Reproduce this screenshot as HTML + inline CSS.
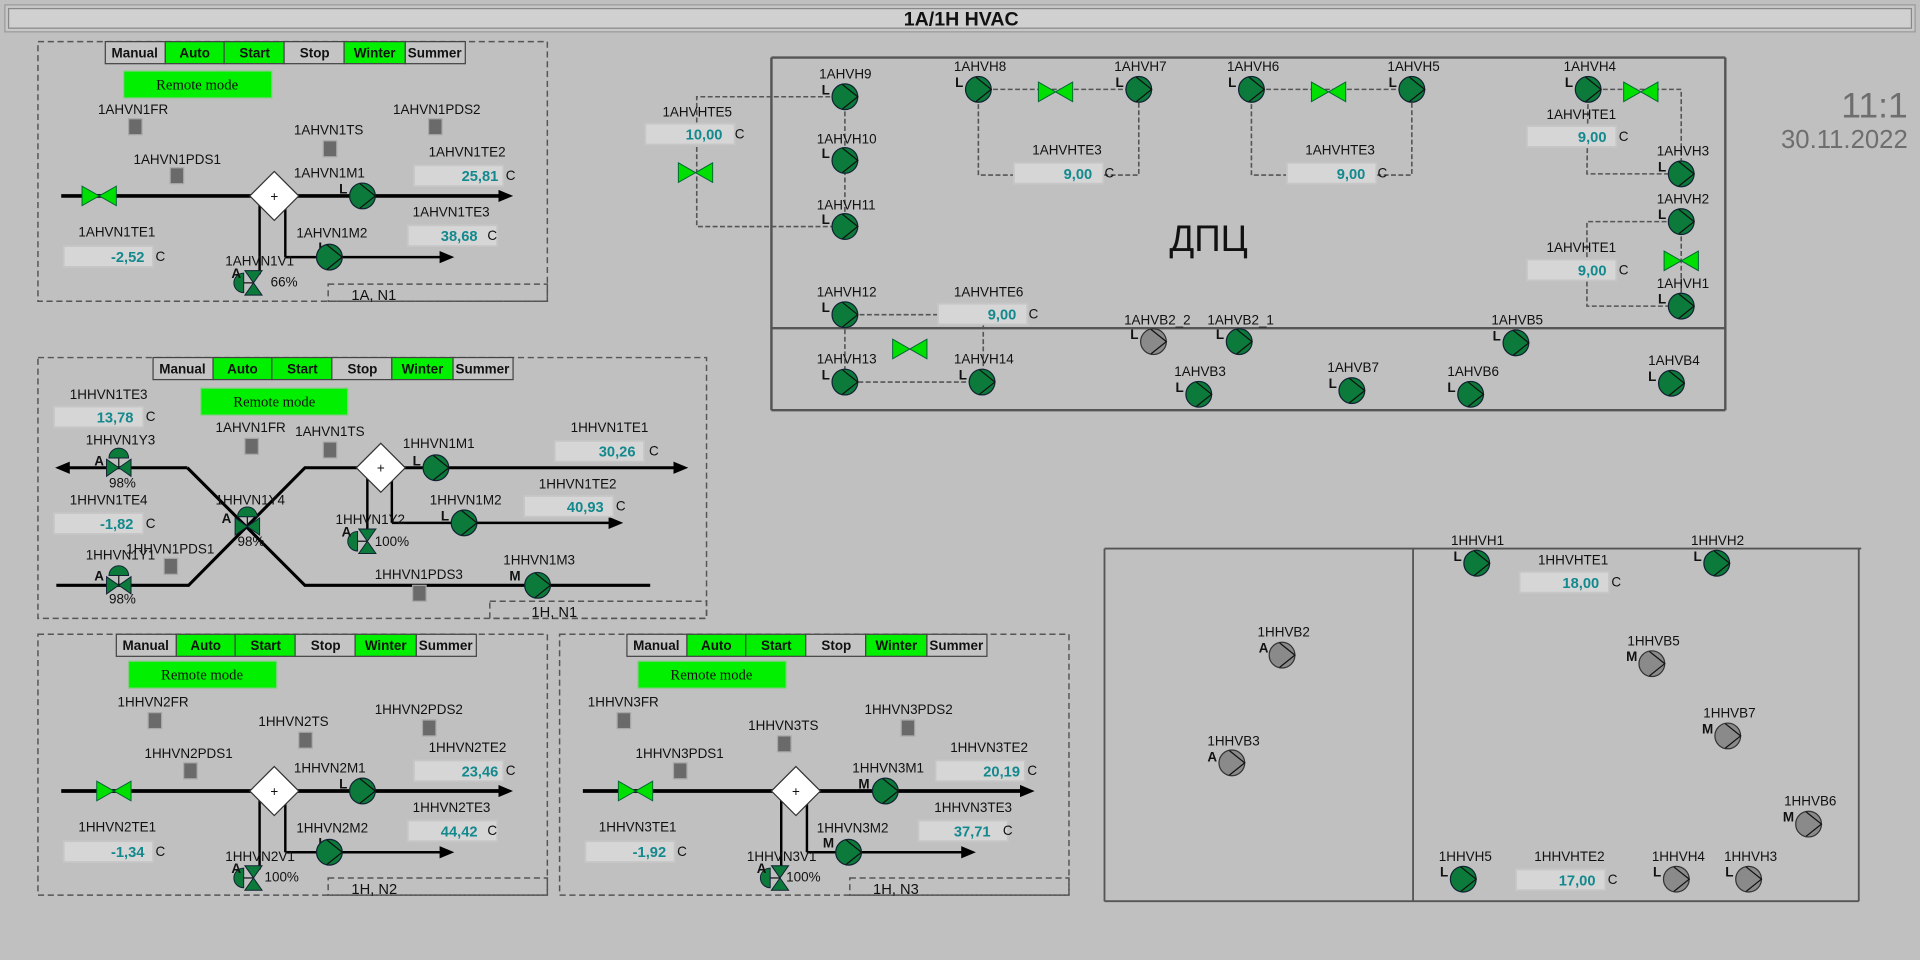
<!DOCTYPE html>
<html><head><meta charset="utf-8"><style>
html,body{margin:0;padding:0;background:#c0c0c0;width:1920px;height:960px;overflow:hidden}
svg{display:block}
text{font-family:"Liberation Sans",sans-serif;fill:#111}
.l{font-size:11px}
.b{font-size:11px;font-weight:bold}
.v{font-size:12px;font-weight:bold;fill:#13898e}
.btn{font-size:11px;font-weight:bold}
.rm{font-family:"Liberation Serif",serif;font-size:12px}
</style></head><body>
<svg width="1920" height="960" viewBox="0 0 1568 784" xmlns="http://www.w3.org/2000/svg">
<defs>
<g id="pump"><circle r="10.5" fill="#0b7a3a" stroke="#123" stroke-width="1"/><polyline points="-2,-10 10.5,0 -2,10" fill="none" stroke="#111" stroke-width="1"/></g>
<g id="pumpg"><circle r="10.5" fill="#8a8a8a" stroke="#333" stroke-width="1"/><polyline points="-2,-10 10.5,0 -2,10" fill="none" stroke="#111" stroke-width="1"/></g>
<g id="gv"><polygon points="-14,-8 0,0 -14,8" fill="#00e000" stroke="#063" stroke-width="0.8"/><polygon points="14,-8 0,0 14,8" fill="#00e000" stroke="#063" stroke-width="0.8"/></g>
<g id="cvv"><line x1="-8" y1="0" x2="0" y2="0" stroke="#111"/><path d="M-8,-8 A8,8 0 0 0 -8,8 Z" fill="#0b7a3a" stroke="#123" stroke-width="0.8"/><polygon points="-7,-10 7,-10 0,0" fill="#0b7a3a" stroke="#123" stroke-width="0.8"/><polygon points="-7,10 7,10 0,0" fill="#0b7a3a" stroke="#123" stroke-width="0.8"/></g>
<g id="cvh"><line x1="0" y1="0" x2="0" y2="-8" stroke="#111"/><path d="M-8,-8 A8,8 0 0 1 8,-8 Z" fill="#0b7a3a" stroke="#123" stroke-width="0.8"/><polygon points="-10,-7 -10,7 0,0" fill="#0b7a3a" stroke="#123" stroke-width="0.8"/><polygon points="10,-7 10,7 0,0" fill="#0b7a3a" stroke="#123" stroke-width="0.8"/></g>
<rect id="sq" x="0" y="0" width="11" height="13" fill="#6a6a6a" stroke="#a8a8a8" stroke-width="1"/>
<rect id="vb" x="0" y="0" width="73" height="17" fill="#d6d6d6" stroke="#c6c6c6" stroke-width="1.5"/>
<g id="dia"><polygon points="0,-20 20,0 0,20 -20,0" fill="#fff" stroke="#333" stroke-width="1"/><text x="0" y="4" text-anchor="middle" style="font-size:11px">+</text></g>
<g id="btns">
<rect x="0" y="0" width="49" height="18" fill="#c4c4c4" stroke="#444"/>
<rect x="49" y="0" width="48" height="18" fill="#00f000" stroke="#444"/>
<rect x="97" y="0" width="49" height="18" fill="#00f000" stroke="#444"/>
<rect x="146" y="0" width="49" height="18" fill="#c4c4c4" stroke="#444"/>
<rect x="195" y="0" width="50" height="18" fill="#00f000" stroke="#444"/>
<rect x="245" y="0" width="49" height="18" fill="#c4c4c4" stroke="#444"/>
</g>
<marker id="ar" markerWidth="12" markerHeight="10" refX="1" refY="5" orient="auto" markerUnits="userSpaceOnUse"><polygon points="0,0 12,5 0,10" fill="#000"/></marker>
</defs>

<!-- title -->
<rect x="4" y="4" width="1560" height="22" fill="#c8c8c8" stroke="#9a9a9a"/>
<rect x="7" y="7" width="1554" height="16" fill="#d0d0d0" stroke="#888"/>
<text x="785" y="21" text-anchor="middle" style="font-size:16px;font-weight:bold">1A/1H HVAC</text>

<!-- Panel 1 -->
<g>
<rect x="31" y="34" width="416" height="212" fill="none" stroke="#555" stroke-dasharray="5,3" stroke-width="1.2"/>
<use href="#btns" x="86" y="34"/>
<text class="btn" x="110" y="47" text-anchor="middle">Manual</text><text class="btn" x="159" y="47" text-anchor="middle">Auto</text><text class="btn" x="208" y="47" text-anchor="middle">Start</text><text class="btn" x="257" y="47" text-anchor="middle">Stop</text><text class="btn" x="306" y="47" text-anchor="middle">Winter</text><text class="btn" x="355" y="47" text-anchor="middle">Summer</text>
<rect x="101" y="58" width="121" height="22" fill="#00f000" stroke="#8c8"/><text class="rm" x="161" y="73" text-anchor="middle">Remote mode</text>
<text class="l" x="80" y="93">1AHVN1FR</text><use href="#sq" x="105" y="97"/>
<text class="l" x="321" y="93">1AHVN1PDS2</text><use href="#sq" x="350" y="97"/>
<text class="l" x="240" y="110">1AHVN1TS</text><use href="#sq" x="264" y="115"/>
<text class="l" x="109" y="134">1AHVN1PDS1</text><use href="#sq" x="139" y="137"/>
<text class="l" x="350" y="128">1AHVN1TE2</text><use href="#vb" x="338" y="135"/><text class="v" x="407" y="148" text-anchor="end">25,81</text><text class="l" x="413" y="147">C</text>
<line x1="50" y1="160" x2="408" y2="160" stroke="#000" stroke-width="3" marker-end="url(#ar)"/>
<use href="#gv" x="81" y="160"/>
<line x1="212" y1="160" x2="212" y2="224" stroke="#000" stroke-width="2"/>
<line x1="233" y1="160" x2="233" y2="210" stroke="#000" stroke-width="2"/>
<line x1="233" y1="210" x2="360" y2="210" stroke="#000" stroke-width="2" marker-end="url(#ar)"/>
<use href="#dia" x="224" y="160"/>
<text class="l" x="240" y="145">1AHVN1M1</text><text class="b" x="277" y="158">L</text><use href="#pump" x="296" y="160"/>
<text class="l" x="337" y="177">1AHVN1TE3</text><use href="#vb" x="333" y="184"/><text class="v" x="390" y="197" text-anchor="end">38,68</text><text class="l" x="398" y="196">C</text>
<text class="l" x="242" y="194">1AHVN1M2</text><text class="b" x="260" y="206">L</text><use href="#pump" x="269" y="210"/>
<text class="l" x="64" y="193">1AHVN1TE1</text><use href="#vb" x="52" y="201"/><text class="v" x="118" y="214" text-anchor="end">-2,52</text><text class="l" x="127" y="213">C</text>
<text class="l" x="184" y="217">1AHVN1V1</text><use href="#cvv" x="207" y="231"/><text class="b" x="189" y="227">A</text><text class="l" x="221" y="234">66%</text>
<rect x="268" y="232" width="179" height="14" fill="none" stroke="#555" stroke-dasharray="5,3" stroke-width="1.2"/><text class="l" x="287" y="245" style="font-size:12px">1A, N1</text>
</g>

<!-- Panel 2 -->
<g>
<rect x="31" y="292" width="546" height="213" fill="none" stroke="#555" stroke-dasharray="5,3" stroke-width="1.2"/>
<use href="#btns" x="125" y="292"/>
<text class="btn" x="149" y="305" text-anchor="middle">Manual</text><text class="btn" x="198" y="305" text-anchor="middle">Auto</text><text class="btn" x="247" y="305" text-anchor="middle">Start</text><text class="btn" x="296" y="305" text-anchor="middle">Stop</text><text class="btn" x="345" y="305" text-anchor="middle">Winter</text><text class="btn" x="394" y="305" text-anchor="middle">Summer</text>
<rect x="164" y="317" width="120" height="22" fill="#00f000" stroke="#8c8"/><text class="rm" x="224" y="332" text-anchor="middle">Remote mode</text>
<text class="l" x="57" y="326">1HHVN1TE3</text><use href="#vb" x="44" y="332"/><text class="v" x="109" y="345" text-anchor="end">13,78</text><text class="l" x="119" y="344">C</text>
<text class="l" x="176" y="353">1AHVN1FR</text><use href="#sq" x="200" y="358"/>
<text class="l" x="241" y="356">1AHVN1TS</text><use href="#sq" x="264" y="361"/>
<polyline points="153,382 249,478 531,478" fill="none" stroke="#000" stroke-width="2.5"/>
<polyline points="46,478 154,478 249,382 551,382" fill="none" stroke="#000" stroke-width="2.5" marker-end="url(#ar)"/>
<line x1="153" y1="382" x2="56" y2="382" stroke="#000" stroke-width="2.5" marker-end="url(#ar)"/>
<line x1="300" y1="382" x2="300" y2="440" stroke="#000" stroke-width="2"/>
<line x1="320" y1="382" x2="320" y2="427" stroke="#000" stroke-width="2"/>
<line x1="320" y1="427" x2="498" y2="427" stroke="#000" stroke-width="2" marker-end="url(#ar)"/>
<use href="#dia" x="311" y="382"/>
<text class="l" x="70" y="363">1HHVN1Y3</text><use href="#cvh" x="97" y="382"/><text class="b" x="77" y="380">A</text><text class="l" x="89" y="398">98%</text>
<text class="l" x="329" y="366">1HHVN1M1</text><text class="b" x="337" y="380">L</text><use href="#pump" x="356" y="382"/>
<text class="l" x="466" y="353">1HHVN1TE1</text><use href="#vb" x="453" y="360"/><text class="v" x="519" y="373" text-anchor="end">30,26</text><text class="l" x="530" y="372">C</text>
<text class="l" x="440" y="399">1HHVN1TE2</text><use href="#vb" x="428" y="405"/><text class="v" x="493" y="418" text-anchor="end">40,93</text><text class="l" x="503" y="417">C</text>
<text class="l" x="57" y="412">1HHVN1TE4</text><use href="#vb" x="44" y="419"/><text class="v" x="109" y="432" text-anchor="end">-1,82</text><text class="l" x="119" y="431">C</text>
<text class="l" x="176" y="412">1HHVN1Y4</text><use href="#cvh" x="202" y="430"/><text class="b" x="181" y="427">A</text><text class="l" x="194" y="446">98%</text>
<text class="l" x="351" y="412">1HHVN1M2</text><text class="b" x="360" y="425">L</text><use href="#pump" x="379" y="427"/>
<text class="l" x="274" y="428">1HHVN1Y2</text><use href="#cvv" x="300" y="442"/><text class="b" x="279" y="438">A</text><text class="l" x="306" y="446">100%</text>
<text class="l" x="103" y="452">1HHVN1PDS1</text><use href="#sq" x="134" y="456"/>
<text class="l" x="70" y="457">1HHVN1Y1</text><use href="#cvh" x="97" y="478"/><text class="b" x="77" y="474">A</text><text class="l" x="89" y="493">98%</text>
<text class="l" x="306" y="473">1HHVN1PDS3</text><use href="#sq" x="337" y="478"/>
<text class="l" x="411" y="461">1HHVN1M3</text><text class="b" x="416" y="474">M</text><use href="#pump" x="439" y="478"/>
<rect x="400" y="491" width="177" height="14" fill="none" stroke="#555" stroke-dasharray="5,3" stroke-width="1.2"/><text class="l" x="434" y="504" style="font-size:12px">1H, N1</text>
</g>

<!-- Panel 3 -->
<g transform="translate(0,486)">
<rect x="31" y="32" width="416" height="213" fill="none" stroke="#555" stroke-dasharray="5,3" stroke-width="1.2"/>
<use href="#btns" x="95" y="32"/>
<text class="btn" x="119" y="45" text-anchor="middle">Manual</text><text class="btn" x="168" y="45" text-anchor="middle">Auto</text><text class="btn" x="217" y="45" text-anchor="middle">Start</text><text class="btn" x="266" y="45" text-anchor="middle">Stop</text><text class="btn" x="315" y="45" text-anchor="middle">Winter</text><text class="btn" x="364" y="45" text-anchor="middle">Summer</text>
<rect x="105" y="54" width="121" height="22" fill="#00f000" stroke="#8c8"/><text class="rm" x="165" y="69" text-anchor="middle">Remote mode</text>
<text class="l" x="96" y="91">1HHVN2FR</text><use href="#sq" x="121" y="96"/>
<text class="l" x="306" y="97">1HHVN2PDS2</text><use href="#sq" x="345" y="102"/>
<text class="l" x="211" y="107">1HHVN2TS</text><use href="#sq" x="244" y="112"/>
<text class="l" x="118" y="133">1HHVN2PDS1</text><use href="#sq" x="150" y="137"/>
<text class="l" x="350" y="128">1HHVN2TE2</text><use href="#vb" x="338" y="135"/><text class="v" x="407" y="148" text-anchor="end">23,46</text><text class="l" x="413" y="147">C</text>
<line x1="50" y1="160" x2="408" y2="160" stroke="#000" stroke-width="3" marker-end="url(#ar)"/>
<use href="#gv" x="93" y="160"/>
<line x1="212" y1="160" x2="212" y2="224" stroke="#000" stroke-width="2"/>
<line x1="233" y1="160" x2="233" y2="210" stroke="#000" stroke-width="2"/>
<line x1="233" y1="210" x2="360" y2="210" stroke="#000" stroke-width="2" marker-end="url(#ar)"/>
<use href="#dia" x="224" y="160"/>
<text class="l" x="240" y="145">1HHVN2M1</text><text class="b" x="277" y="158">L</text><use href="#pump" x="296" y="160"/>
<text class="l" x="337" y="177">1HHVN2TE3</text><use href="#vb" x="333" y="184"/><text class="v" x="390" y="197" text-anchor="end">44,42</text><text class="l" x="398" y="196">C</text>
<text class="l" x="242" y="194">1HHVN2M2</text><text class="b" x="260" y="206">L</text><use href="#pump" x="269" y="210"/>
<text class="l" x="64" y="193">1HHVN2TE1</text><use href="#vb" x="52" y="201"/><text class="v" x="118" y="214" text-anchor="end">-1,34</text><text class="l" x="127" y="213">C</text>
<text class="l" x="184" y="217">1HHVN2V1</text><use href="#cvv" x="207" y="231"/><text class="b" x="189" y="227">A</text><text class="l" x="216" y="234">100%</text>
<rect x="268" y="231" width="179" height="14" fill="none" stroke="#555" stroke-dasharray="5,3" stroke-width="1.2"/><text class="l" x="287" y="244" style="font-size:12px">1H, N2</text>
</g>

<!-- Panel 4 -->
<g transform="translate(426,486)">
<rect x="31" y="32" width="416" height="213" fill="none" stroke="#555" stroke-dasharray="5,3" stroke-width="1.2"/>
<use href="#btns" x="86" y="32"/>
<text class="btn" x="110" y="45" text-anchor="middle">Manual</text><text class="btn" x="159" y="45" text-anchor="middle">Auto</text><text class="btn" x="208" y="45" text-anchor="middle">Start</text><text class="btn" x="257" y="45" text-anchor="middle">Stop</text><text class="btn" x="306" y="45" text-anchor="middle">Winter</text><text class="btn" x="355" y="45" text-anchor="middle">Summer</text>
<rect x="95" y="54" width="121" height="22" fill="#00f000" stroke="#8c8"/><text class="rm" x="155" y="69" text-anchor="middle">Remote mode</text>
<text class="l" x="54" y="91">1HHVN3FR</text><use href="#sq" x="78" y="96"/>
<text class="l" x="280" y="97">1HHVN3PDS2</text><use href="#sq" x="310" y="102"/>
<text class="l" x="185" y="110">1HHVN3TS</text><use href="#sq" x="209" y="115"/>
<text class="l" x="93" y="133">1HHVN3PDS1</text><use href="#sq" x="124" y="137"/>
<text class="l" x="350" y="128">1HHVN3TE2</text><use href="#vb" x="338" y="135"/><text class="v" x="407" y="148" text-anchor="end">20,19</text><text class="l" x="413" y="147">C</text>
<line x1="50" y1="160" x2="408" y2="160" stroke="#000" stroke-width="3" marker-end="url(#ar)"/>
<use href="#gv" x="93" y="160"/>
<line x1="212" y1="160" x2="212" y2="224" stroke="#000" stroke-width="2"/>
<line x1="233" y1="160" x2="233" y2="210" stroke="#000" stroke-width="2"/>
<line x1="233" y1="210" x2="360" y2="210" stroke="#000" stroke-width="2" marker-end="url(#ar)"/>
<use href="#dia" x="224" y="160"/>
<text class="l" x="270" y="145">1HHVN3M1</text><text class="b" x="275" y="158">M</text><use href="#pump" x="297" y="160"/>
<text class="l" x="337" y="177">1HHVN3TE3</text><use href="#vb" x="324" y="184"/><text class="v" x="383" y="197" text-anchor="end">37,71</text><text class="l" x="393" y="196">C</text>
<text class="l" x="241" y="194">1HHVN3M2</text><text class="b" x="246" y="206">M</text><use href="#pump" x="267" y="210"/>
<text class="l" x="63" y="193">1HHVN3TE1</text><use href="#vb" x="52" y="201"/><text class="v" x="118" y="214" text-anchor="end">-1,92</text><text class="l" x="127" y="213">C</text>
<text class="l" x="184" y="217">1HHVN3V1</text><use href="#cvv" x="211" y="231"/><text class="b" x="192" y="227">A</text><text class="l" x="216" y="234">100%</text>
<rect x="268" y="231" width="179" height="14" fill="none" stroke="#555" stroke-dasharray="5,3" stroke-width="1.2"/><text class="l" x="287" y="244" style="font-size:12px">1H, N3</text>
</g>

<!-- DPC area -->
<g>
<line x1="630" y1="47" x2="1409" y2="47" stroke="#555" stroke-width="2"/>
<line x1="630" y1="47" x2="630" y2="335" stroke="#555" stroke-width="2"/>
<line x1="1409" y1="47" x2="1409" y2="335" stroke="#555" stroke-width="2"/>
<line x1="630" y1="335" x2="1409" y2="335" stroke="#555" stroke-width="2"/>
<line x1="630" y1="268" x2="1409" y2="268" stroke="#555" stroke-width="2"/>
<g fill="none" stroke="#555" stroke-dasharray="4,2" stroke-width="1.3">
<polyline points="690,79 569,79 569,185 690,185"/>
<polyline points="690,79 690,185"/>
<polyline points="799,73 930,73"/>
<polyline points="799,73 799,143 828,143"/><polyline points="901,143 930,143 930,73"/>
<polyline points="1022,73 1153,73"/>
<polyline points="1022,73 1022,143 1051,143"/><polyline points="1124,143 1153,143 1153,73"/>
<polyline points="1297,73 1373,73 1373,142"/>
<polyline points="1297,73 1296,142 1373,142"/>
<polyline points="1373,181 1296,181 1296,250 1373,250"/>
<polyline points="1373,181 1373,250"/>
<polyline points="690,257 766,257"/><polyline points="803,265 803,312"/>
<polyline points="690,257 690,312 802,312"/>
</g>
<text class="l" x="541" y="95">1AHVHTE5</text><use href="#vb" x="527" y="101"/><text class="v" x="590" y="114" text-anchor="end">10,00</text><text class="l" x="600" y="113">C</text>
<use href="#gv" x="568" y="141"/>
<text class="l" x="669" y="64">1AHVH9</text><text class="b" x="671" y="77">L</text><use href="#pump" x="690" y="79"/>
<text class="l" x="667" y="117">1AHVH10</text><text class="b" x="671" y="129">L</text><use href="#pump" x="690" y="131"/>
<text class="l" x="667" y="171">1AHVH11</text><text class="b" x="671" y="183">L</text><use href="#pump" x="690" y="185"/>
<text class="l" x="779" y="58">1AHVH8</text><text class="b" x="780" y="71">L</text><use href="#pump" x="799" y="73"/>
<use href="#gv" x="862" y="75"/>
<text class="l" x="910" y="58">1AHVH7</text><text class="b" x="911" y="71">L</text><use href="#pump" x="930" y="73"/>
<text class="l" x="843" y="126">1AHVHTE3</text><use href="#vb" x="828" y="133"/><text class="v" x="892" y="146" text-anchor="end">9,00</text><text class="l" x="902" y="145">C</text>
<text class="l" x="1002" y="58">1AHVH6</text><text class="b" x="1003" y="71">L</text><use href="#pump" x="1022" y="73"/>
<use href="#gv" x="1085" y="75"/>
<text class="l" x="1133" y="58">1AHVH5</text><text class="b" x="1134" y="71">L</text><use href="#pump" x="1153" y="73"/>
<text class="l" x="1066" y="126">1AHVHTE3</text><use href="#vb" x="1051" y="133"/><text class="v" x="1115" y="146" text-anchor="end">9,00</text><text class="l" x="1125" y="145">C</text>
<text class="l" x="1277" y="58">1AHVH4</text><text class="b" x="1278" y="71">L</text><use href="#pump" x="1297" y="73"/>
<use href="#gv" x="1340" y="75"/>
<text class="l" x="1263" y="97">1AHVHTE1</text><use href="#vb" x="1247" y="103"/><text class="v" x="1312" y="116" text-anchor="end">9,00</text><text class="l" x="1322" y="115">C</text>
<text class="l" x="1353" y="127">1AHVH3</text><text class="b" x="1354" y="140">L</text><use href="#pump" x="1373" y="142"/>
<text class="l" x="1353" y="166">1AHVH2</text><text class="b" x="1354" y="179">L</text><use href="#pump" x="1373" y="181"/>
<use href="#gv" x="1373" y="213"/>
<text class="l" x="1263" y="206">1AHVHTE1</text><use href="#vb" x="1247" y="212"/><text class="v" x="1312" y="225" text-anchor="end">9,00</text><text class="l" x="1322" y="224">C</text>
<text class="l" x="1353" y="235">1AHVH1</text><text class="b" x="1354" y="248">L</text><use href="#pump" x="1373" y="250"/>
<text x="987" y="205" text-anchor="middle" style="font-size:30px">ДПЦ</text>
<text class="l" x="667" y="242">1AHVH12</text><text class="b" x="671" y="255">L</text><use href="#pump" x="690" y="257"/>
<text class="l" x="779" y="242">1AHVHTE6</text><use href="#vb" x="766" y="248"/><text class="v" x="830" y="261" text-anchor="end">9,00</text><text class="l" x="840" y="260">C</text>
<use href="#gv" x="743" y="285"/>
<text class="l" x="667" y="297">1AHVH13</text><text class="b" x="671" y="310">L</text><use href="#pump" x="690" y="312"/>
<text class="l" x="779" y="297">1AHVH14</text><text class="b" x="783" y="310">L</text><use href="#pump" x="802" y="312"/>
<text class="l" x="918" y="265">1AHVB2_2</text><text class="b" x="923" y="277">L</text><use href="#pumpg" x="942" y="279"/>
<text class="l" x="986" y="265">1AHVB2_1</text><text class="b" x="993" y="277">L</text><use href="#pump" x="1012" y="279"/>
<text class="l" x="1218" y="265">1AHVB5</text><text class="b" x="1219" y="278">L</text><use href="#pump" x="1238" y="280"/>
<text class="l" x="959" y="307">1AHVB3</text><text class="b" x="960" y="320">L</text><use href="#pump" x="979" y="322"/>
<text class="l" x="1084" y="304">1AHVB7</text><text class="b" x="1085" y="317">L</text><use href="#pump" x="1104" y="319"/>
<text class="l" x="1182" y="307">1AHVB6</text><text class="b" x="1182" y="320">L</text><use href="#pump" x="1201" y="322"/>
<text class="l" x="1346" y="298">1AHVB4</text><text class="b" x="1346" y="311">L</text><use href="#pump" x="1365" y="313"/>
</g>

<!-- clock -->
<text x="1558" y="96" text-anchor="end" style="font-size:29px;fill:#6e6e6e">11:1</text>
<text x="1558" y="121" text-anchor="end" style="font-size:21px;fill:#6e6e6e">30.11.2022</text>

<!-- right-bottom area -->
<g>
<line x1="902" y1="448" x2="1520" y2="448" stroke="#555" stroke-width="1.5"/>
<line x1="902" y1="448" x2="902" y2="736" stroke="#555" stroke-width="1.5"/>
<line x1="1154" y1="448" x2="1154" y2="736" stroke="#555" stroke-width="1.5"/>
<line x1="1518" y1="448" x2="1518" y2="736" stroke="#555" stroke-width="1.5"/>
<line x1="902" y1="736" x2="1518" y2="736" stroke="#555" stroke-width="1.5"/>
<text class="l" x="1185" y="445">1HHVH1</text><text class="b" x="1187" y="458">L</text><use href="#pump" x="1206" y="460"/>
<text class="l" x="1381" y="445">1HHVH2</text><text class="b" x="1383" y="458">L</text><use href="#pump" x="1402" y="460"/>
<text class="l" x="1256" y="461">1HHVHTE1</text><use href="#vb" x="1241" y="467"/><text class="v" x="1306" y="480" text-anchor="end">18,00</text><text class="l" x="1316" y="479">C</text>
<text class="l" x="1027" y="520">1HHVB2</text><text class="b" x="1028" y="533">A</text><use href="#pumpg" x="1047" y="535"/>
<text class="l" x="1329" y="527">1HHVB5</text><text class="b" x="1328" y="540">M</text><use href="#pumpg" x="1349" y="542"/>
<text class="l" x="1391" y="586">1HHVB7</text><text class="b" x="1390" y="599">M</text><use href="#pumpg" x="1411" y="601"/>
<text class="l" x="986" y="609">1HHVB3</text><text class="b" x="986" y="622">A</text><use href="#pumpg" x="1006" y="623"/>
<text class="l" x="1457" y="658">1HHVB6</text><text class="b" x="1456" y="671">M</text><use href="#pumpg" x="1477" y="673"/>
<text class="l" x="1175" y="703">1HHVH5</text><text class="b" x="1176" y="716">L</text><use href="#pump" x="1195" y="718"/>
<text class="l" x="1253" y="703">1HHVHTE2</text><use href="#vb" x="1238" y="710"/><text class="v" x="1303" y="723" text-anchor="end">17,00</text><text class="l" x="1313" y="722">C</text>
<text class="l" x="1349" y="703">1HHVH4</text><text class="b" x="1350" y="716">L</text><use href="#pumpg" x="1369" y="718"/>
<text class="l" x="1408" y="703">1HHVH3</text><text class="b" x="1409" y="716">L</text><use href="#pumpg" x="1428" y="718"/>
</g>
</svg>
</body></html>
